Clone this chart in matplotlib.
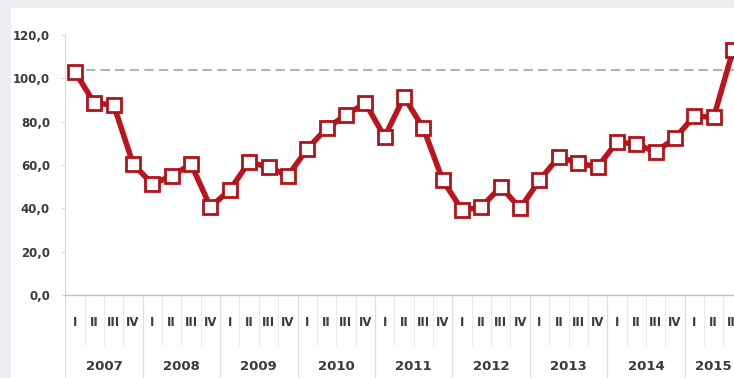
import numpy as np
import matplotlib.pyplot as plt
import matplotlib.patches as mpatches

# quarterly values, 2007 Q1 .. 2015 Q3
years = ['2007', '2008', '2009', '2010', '2011', '2012', '2013', '2014', '2015']
quarters = ['I', 'II', 'III', 'IV']
values = [103.0, 88.6, 87.7, 60.5,
          51.2, 55.0, 60.4, 40.6,
          48.5, 61.4, 59.0, 55.0,
          67.4, 77.0, 83.0, 88.6,
          73.0, 91.4, 77.0, 53.0,
          39.2, 40.6, 50.0, 40.0,
          53.0, 63.7, 61.0, 59.0,
          70.6, 69.7, 66.0, 72.4,
          82.6, 82.0, 113.0]
reference_level = 104.0
yticks = [0, 20, 40, 60, 80, 100, 120]

W, H = 734, 378
fig = plt.figure(figsize=(W / 100, H / 100), dpi=100)
fig.patch.set_facecolor('#eceef1')
# white panel behind the chart
fig.patches.append(mpatches.Rectangle((11 / W, 0), 1, (H - 8) / H,
                                      transform=fig.transFigure,
                                      facecolor='white', edgecolor='none', zorder=-10))

n = len(values)
x = np.arange(n)

ax = fig.add_axes([65.3 / W, 83 / H, 677.4 / W, 260 / H])
ax.set_facecolor('none')
ax.set_xlim(-0.5, 34.5)
ax.set_ylim(0, 120)

ax.hlines(reference_level, 0.57, 34.5, colors='#bab2b0', linestyles=(0, (4.5, 2.5)),
          linewidth=1.5, zorder=2)
ax.plot(x, values, color='#bb151b', linewidth=4.0, marker='s', markersize=10.5,
        markerfacecolor='white', markeredgecolor='#b0131a', markeredgewidth=2.0,
        zorder=3, clip_on=False)

for side in ['top', 'right']:
    ax.spines[side].set_visible(False)
ax.spines['left'].set_color('#dcd8d8')
ax.spines['bottom'].set_color('#cdb9b7')
ax.spines['bottom'].set_linewidth(1.0)

ax.set_yticks(yticks)
ax.set_yticklabels([f'{v:.1f}'.replace('.', ',') for v in yticks],
                   fontsize=8.5, color='#3a3a3a', fontweight='bold')
ax.tick_params(axis='y', length=3, color='#dcd8d8', pad=8)
ax.set_xticks([])

# category labels below the axis
trans = ax.get_xaxis_transform()
for i in range(n):
    ax.text(i, -27 / 260, quarters[i % 4], transform=trans, ha='center', va='center',
            fontsize=8.5, color='#3a3a3a', fontweight='bold', clip_on=False)
for j, yr in enumerate(years):
    cnt = min(4, n - 4 * j)
    ax.text(4 * j + (cnt - 1) / 2, -71 / 260, yr, transform=trans, ha='center', va='center',
            fontsize=9.5, color='#3a3a3a', fontweight='bold', clip_on=False)

# separators between quarters and years
for i in range(n + 1):
    xs = i - 0.5
    if i % 4 == 0:
        ax.plot([xs, xs], [0, -83 / 260], transform=trans, color='#e2dede',
                linewidth=0.9, clip_on=False)
    else:
        ax.plot([xs, xs], [0, -50 / 260], transform=trans, color='#ebe8e8',
                linewidth=0.8, clip_on=False)

fig.savefig('out.png', dpi=100, facecolor=fig.get_facecolor())
